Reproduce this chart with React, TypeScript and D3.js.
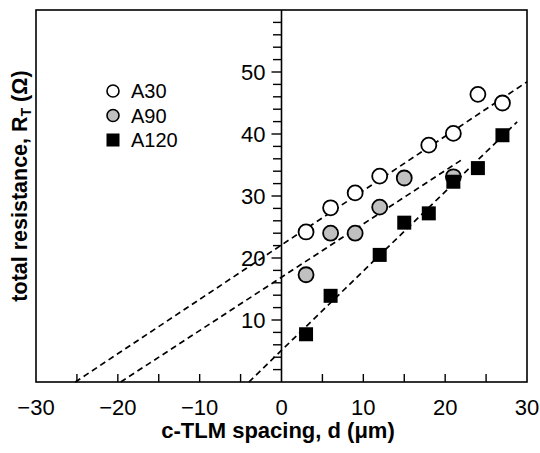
import * as d3 from "d3";
import { useEffect, useRef } from "react";

// c-TLM spacing (um) for each sample
const spacingA30 = [3, 6, 9, 12, 18, 21, 24, 27];
const resistA30 = [24.2, 28.1, 30.5, 33.2, 38.2, 40.1, 46.4, 45.0];

const spacingA90 = [3, 6, 9, 12, 15, 21];
const resistA90 = [17.3, 24.0, 24.0, 28.2, 32.9, 33.1];

const spacingA120 = [3, 6, 12, 15, 18, 21, 24, 27];
const resistA120 = [7.7, 13.9, 20.5, 25.7, 27.2, 32.3, 34.5, 39.8];

// linear fits: intercept at d = 0, slope, and where the dashed line stops
const fitNames = ["A30", "A90", "A120"];
const fitIntercept = [22.1, 16.9, 5.1];
const fitSlope = [0.877, 0.86, 1.28];
const fitEnd = [30, 22, 28.8];

const xTicks = [-30, -20, -10, 0, 10, 20, 30];
const yTicks = [10, 20, 30, 40, 50];

const FONT = "'Liberation Sans', Arial, sans-serif";

export default function App() {
  const ref = useRef<SVGSVGElement>(null);

  useEffect(() => {
    const svg = d3.select(ref.current);
    svg.selectAll("*").remove();

    const margin = { top: 10, right: 13, bottom: 71, left: 36 };
    const width = 540 - margin.left - margin.right;
    const height = 453 - margin.top - margin.bottom;

    const g = svg.append("g").attr("transform", `translate(${margin.left},${margin.top})`);

    const x = d3.scaleLinear().domain([-30, 30]).range([0, width]);
    const y = d3.scaleLinear().domain([0, 60]).range([height, 0]);

    // frame
    g.append("rect")
      .attr("width", width)
      .attr("height", height)
      .attr("fill", "none")
      .attr("stroke", "#000")
      .attr("stroke-width", 1.6);

    // x ticks every 5, pointing inward
    g.selectAll(".xtick")
      .data(d3.range(-25, 30, 5).filter(v => v !== 0))
      .join("line")
      .attr("x1", d => x(d))
      .attr("x2", d => x(d))
      .attr("y1", height)
      .attr("y2", height - 8)
      .attr("stroke", "#000")
      .attr("stroke-width", 1.4);

    g.selectAll(".xlab")
      .data(xTicks)
      .join("text")
      .attr("x", d => x(d))
      .attr("y", height + 33)
      .attr("text-anchor", "middle")
      .attr("font-family", FONT)
      .attr("font-size", 22)
      .text(d => (d < 0 ? "\u2212" + Math.abs(d) : String(d)));

    // y axis at d = 0
    g.append("line")
      .attr("x1", x(0))
      .attr("x2", x(0))
      .attr("y1", 0)
      .attr("y2", height)
      .attr("stroke", "#000")
      .attr("stroke-width", 1.6);

    g.selectAll(".ytick")
      .data(d3.range(2, 60, 2))
      .join("line")
      .attr("x1", x(0))
      .attr("x2", d => x(0) - (d % 10 === 0 ? 10 : 8.5))
      .attr("y1", d => y(d))
      .attr("y2", d => y(d))
      .attr("stroke", "#000")
      .attr("stroke-width", 1.4);

    g.selectAll(".ylab")
      .data(yTicks)
      .join("text")
      .attr("x", x(0) - 16)
      .attr("y", d => y(d))
      .attr("dy", "0.36em")
      .attr("text-anchor", "end")
      .attr("font-family", FONT)
      .attr("font-size", 22)
      .text(d => d);

    // dashed fit lines, from R = 0 up to the last spacing
    fitNames.forEach((_, i) => {
      const x0 = -fitIntercept[i] / fitSlope[i];
      const pts: [number, number][] = [
        [x0, 0],
        [fitEnd[i], fitIntercept[i] + fitSlope[i] * fitEnd[i]],
      ];
      g.append("path")
        .attr("d", d3.line()
          .x(p => x(p[0]))
          .y(p => y(p[1]))(pts))
        .attr("fill", "none")
        .attr("stroke", "#000")
        .attr("stroke-width", 1.7)
        .attr("stroke-dasharray", "6,4");
    });

    // markers
    g.selectAll(".a30")
      .data(spacingA30)
      .join("circle")
      .attr("cx", d => x(d))
      .attr("cy", (d, i) => y(resistA30[i]))
      .attr("r", 7.5)
      .attr("fill", "#fff")
      .attr("stroke", "#000")
      .attr("stroke-width", 1.8);

    g.selectAll(".a90")
      .data(spacingA90)
      .join("circle")
      .attr("cx", d => x(d))
      .attr("cy", (d, i) => y(resistA90[i]))
      .attr("r", 7.5)
      .attr("fill", "#c0c0c0")
      .attr("stroke", "#000")
      .attr("stroke-width", 1.8);

    g.selectAll(".a120")
      .data(spacingA120)
      .join("rect")
      .attr("x", d => x(d) - 7)
      .attr("y", (d, i) => y(resistA120[i]) - 7)
      .attr("width", 14)
      .attr("height", 14)
      .attr("fill", "#000");

    // legend
    const legend = svg.append("g").attr("transform", "translate(113,91)");
    fitNames.forEach((name, i) => {
      const row = legend.append("g").attr("transform", `translate(0,${i * 24.5})`);
      if (i < 2) {
        row.append("circle")
          .attr("r", 6)
          .attr("fill", i === 0 ? "#fff" : "#c0c0c0")
          .attr("stroke", "#000")
          .attr("stroke-width", 1.6);
      } else {
        row.append("rect")
          .attr("x", -6.5)
          .attr("y", -6.5)
          .attr("width", 13)
          .attr("height", 13)
          .attr("fill", "#000");
      }
      row.append("text")
        .attr("x", 18)
        .attr("dy", "0.36em")
        .attr("font-family", FONT)
        .attr("font-size", 20)
        .text(name);
    });

    // axis titles
    svg.append("text")
      .attr("x", 278)
      .attr("y", 438)
      .attr("text-anchor", "middle")
      .attr("font-family", FONT)
      .attr("font-size", 22)
      .attr("font-weight", "bold")
      .text("c-TLM spacing, d (\u03bcm)");

    const yTitle = svg.append("text")
      .attr("transform", "translate(27,186) rotate(-90)")
      .attr("text-anchor", "middle")
      .attr("font-family", FONT)
      .attr("font-size", 21.5)
      .attr("font-weight", "bold");
    yTitle.append("tspan").text("total resistance, R");
    yTitle.append("tspan").attr("font-size", 14).attr("dy", 4).text("T");
    yTitle.append("tspan").attr("dy", -4).text(" (\u03a9)");
  }, []);

  return (
    <svg
      ref={ref}
      width={540}
      height={453}
      style={{ position: "absolute", left: 0, top: 0, background: "#fff" }}
    />
  );
}
